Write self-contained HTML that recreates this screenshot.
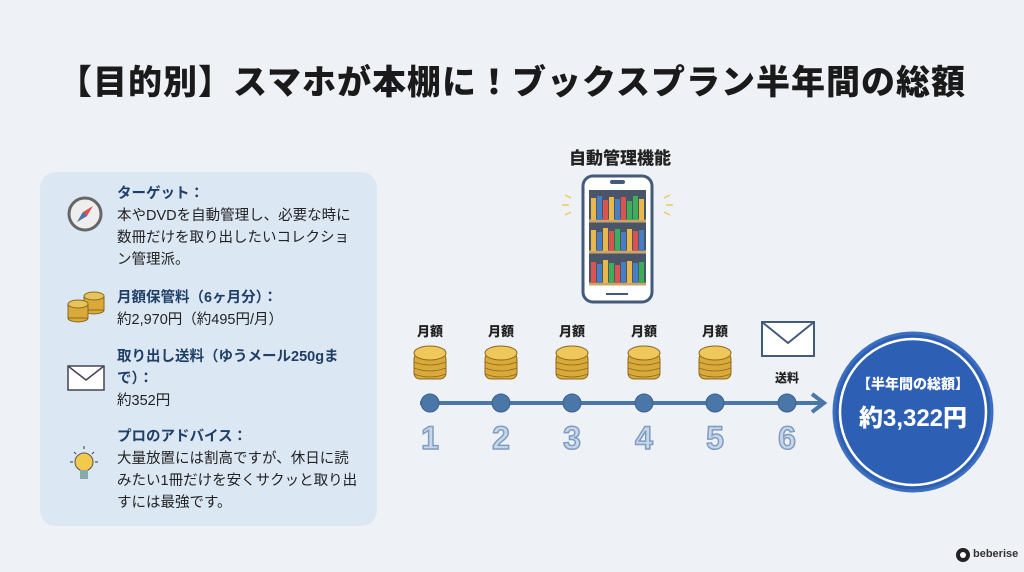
<!DOCTYPE html>
<html><head><meta charset="utf-8"><style>
body{margin:0;width:1024px;height:572px;background:#eef1f5;font-family:"Liberation Sans","Noto Sans CJK JP",sans-serif;position:relative;overflow:hidden;color:#222}
.a{position:absolute}
h1{position:absolute;left:0;width:1024px;top:55px;margin:0;text-align:center;font-size:34px;font-weight:900;color:#1a1a1a;letter-spacing:1px}
.panel{left:40px;top:172px;width:337px;height:354px;background:#dce7f4;border-radius:16px}
.t{font-size:14.5px;line-height:22px;color:#222}
.t b{color:#1f3f66}
.lbl{font-size:13px;font-weight:900;width:60px;text-align:center}
.num{font-size:32px;font-weight:900;color:#c8d6ea;-webkit-text-stroke:1.5px #7f9dc0;width:40px;text-align:center}
</style></head><body>
<h1>【目的別】スマホが本棚に！ブックスプラン半年間の総額</h1>
<div class="a panel"></div>
<div class="a t" style="left:117px;top:183px;width:242px"><b>ターゲット：</b><br>本やDVDを自動管理し、必要な時に数冊だけを取り出したいコレクション管理派。</div>
<div class="a t" style="left:117px;top:287px;width:242px"><b>月額保管料（6ヶ月分）：</b><br>約2,970円（約495円/月）</div>
<div class="a t" style="left:117px;top:346px;width:242px"><b>取り出し送料（ゆうメール250gまで）：</b><br>約352円</div>
<div class="a t" style="left:117px;top:426px;width:242px"><b>プロのアドバイス：</b><br>大量放置には割高ですが、休日に読みたい1冊だけを安くサクッと取り出すには最強です。</div>
<svg class="a" style="left:0;top:0" width="1024" height="572">
<circle cx="85" cy="214" r="16" fill="#eee" stroke="#666" stroke-width="3"/>
<polygon points="93,206 83,212 77,222 87,216" fill="#d9534f"/><polygon points="83,212 77,222 87,216" fill="#4a77a8"/>
<g fill="#d9a93a" stroke="#8a6a20" stroke-width="1">
<ellipse cx="94" cy="310" rx="10" ry="4"/><rect x="84" y="296" width="20" height="14"/><ellipse cx="94" cy="296" rx="10" ry="4" fill="#e8c35a"/>
<ellipse cx="78" cy="318" rx="10" ry="4"/><rect x="68" y="304" width="20" height="14"/><ellipse cx="78" cy="304" rx="10" ry="4" fill="#e8c35a"/>
</g>
<rect x="68" y="366" width="36" height="24" fill="#fff" stroke="#445" stroke-width="1.5"/><polyline points="68,366 86,380 104,366" fill="none" stroke="#445" stroke-width="1.5"/>
<circle cx="84" cy="462" r="9" fill="#f2c94c" stroke="#555"/><rect x="80" y="470" width="8" height="9" fill="#8aa"/>
<g stroke="#555" stroke-width="1.2"><line x1="70" y1="462" x2="73" y2="462"/><line x1="95" y1="462" x2="98" y2="462"/><line x1="84" y1="446" x2="84" y2="449"/><line x1="74" y1="452" x2="76" y2="454"/><line x1="94" y1="452" x2="92" y2="454"/></g>
<rect x="583" y="176" width="69" height="126" rx="10" fill="#fff" stroke="#445a7a" stroke-width="3"/>
<rect x="589" y="190" width="57" height="95" fill="#4a5568"/>
<g stroke="#c9a56a" stroke-width="3"><line x1="589" y1="221" x2="646" y2="221"/><line x1="589" y1="252" x2="646" y2="252"/><line x1="589" y1="284" x2="646" y2="284"/></g>
<g>
<rect x="591" y="198" width="5" height="22" fill="#e8b84a"/><rect x="597" y="196" width="5" height="24" fill="#4a7ec2"/><rect x="603" y="200" width="5" height="20" fill="#d9534f"/><rect x="609" y="197" width="5" height="23" fill="#e8b84a"/><rect x="615" y="199" width="5" height="21" fill="#4a7ec2"/><rect x="621" y="197" width="5" height="23" fill="#d9534f"/><rect x="627" y="201" width="5" height="19" fill="#3fae5a"/><rect x="633" y="196" width="5" height="24" fill="#3fae5a"/><rect x="639" y="199" width="5" height="21" fill="#e8b84a"/>
<rect x="591" y="230" width="5" height="21" fill="#e8b84a"/><rect x="597" y="232" width="5" height="19" fill="#4a7ec2"/><rect x="603" y="228" width="5" height="23" fill="#e8b84a"/><rect x="609" y="231" width="5" height="20" fill="#d9534f"/><rect x="615" y="229" width="5" height="22" fill="#3fae5a"/><rect x="621" y="232" width="5" height="19" fill="#4a7ec2"/><rect x="627" y="229" width="5" height="22" fill="#e8b84a"/><rect x="633" y="231" width="5" height="20" fill="#d9534f"/><rect x="639" y="230" width="5" height="21" fill="#4a7ec2"/>
<rect x="591" y="262" width="5" height="21" fill="#d9534f"/><rect x="597" y="264" width="5" height="19" fill="#4a7ec2"/><rect x="603" y="260" width="5" height="23" fill="#e8b84a"/><rect x="609" y="263" width="5" height="20" fill="#3fae5a"/><rect x="615" y="265" width="5" height="18" fill="#d9534f"/><rect x="621" y="262" width="5" height="21" fill="#4a7ec2"/><rect x="627" y="261" width="5" height="22" fill="#e8b84a"/><rect x="633" y="263" width="5" height="20" fill="#4a7ec2"/><rect x="639" y="262" width="5" height="21" fill="#3fae5a"/>
</g>
<rect x="610" y="180" width="15" height="4" rx="2" fill="#445a7a"/><rect x="606" y="293" width="22" height="2" fill="#445a7a"/>
<g stroke="#f0c860" stroke-width="1.5"><line x1="565" y1="195" x2="571" y2="198"/><line x1="562" y1="205" x2="569" y2="205"/><line x1="565" y1="215" x2="571" y2="212"/><line x1="670" y1="195" x2="664" y2="198"/><line x1="673" y1="205" x2="666" y2="205"/><line x1="670" y1="215" x2="664" y2="212"/></g>
<defs><g id="c"><g fill="#d9a93a" stroke="#8a6a20" stroke-width="1"><rect x="-16" y="-12" width="32" height="26" rx="6"/><ellipse cx="0" cy="-12" rx="16" ry="7" fill="#efc75a"/></g><g stroke="#8a6a20" stroke-width="0.8" fill="none"><path d="M-16,-3 q16,6 32,0"/><path d="M-16,3 q16,6 32,0"/><path d="M-16,9 q16,6 32,0"/></g></g></defs>
<use href="#c" x="430" y="365"/><use href="#c" x="501" y="365"/><use href="#c" x="572" y="365"/><use href="#c" x="644" y="365"/><use href="#c" x="715" y="365"/>
<rect x="762" y="322" width="52" height="34" fill="#fff" stroke="#445a7a" stroke-width="2"/><polyline points="762,322 788,343 814,322" fill="none" stroke="#445a7a" stroke-width="2"/>
<line x1="420" y1="403" x2="822" y2="403" stroke="#4a77a8" stroke-width="4"/>
<polyline points="812,394 824,403 812,412" fill="none" stroke="#4a77a8" stroke-width="4"/>
<g fill="#4a77a8" stroke="#3a628e"><circle cx="430" cy="403" r="9"/><circle cx="501" cy="403" r="9"/><circle cx="572" cy="403" r="9"/><circle cx="644" cy="403" r="9"/><circle cx="715" cy="403" r="9"/><circle cx="787" cy="403" r="9"/></g>
<circle cx="913" cy="412" r="79" fill="#2d5fb5" stroke="#3d6fc0" stroke-width="3"/>
<circle cx="913" cy="412" r="73" fill="none" stroke="#fff" stroke-width="2.5"/>
<circle cx="963" cy="555" r="7" fill="#222"/><circle cx="963" cy="555" r="3" fill="#fff"/>
</svg>
<div class="a" style="left:520px;top:144px;width:200px;text-align:center;font-size:17px;font-weight:900">自動管理機能</div>
<div class="a lbl" style="left:400px;top:321px">月額</div>
<div class="a lbl" style="left:471px;top:321px">月額</div>
<div class="a lbl" style="left:542px;top:321px">月額</div>
<div class="a lbl" style="left:614px;top:321px">月額</div>
<div class="a lbl" style="left:685px;top:321px">月額</div>
<div class="a lbl" style="left:757px;top:369px;font-size:12px">送料</div>
<div class="a num" style="left:410px;top:420px">1</div>
<div class="a num" style="left:481px;top:420px">2</div>
<div class="a num" style="left:552px;top:420px">3</div>
<div class="a num" style="left:624px;top:420px">4</div>
<div class="a num" style="left:695px;top:420px">5</div>
<div class="a num" style="left:767px;top:420px">6</div>
<div class="a" style="left:833px;top:374px;width:160px;text-align:center;color:#fff;font-size:14px;font-weight:900">【半年間の総額】</div>
<div class="a" style="left:833px;top:398px;width:160px;text-align:center;color:#fff;font-size:24px;font-weight:900">約3,322円</div>
<div class="a" style="left:973px;top:548px;font-size:11px;font-weight:700;color:#333">beberise</div>
</body></html>
